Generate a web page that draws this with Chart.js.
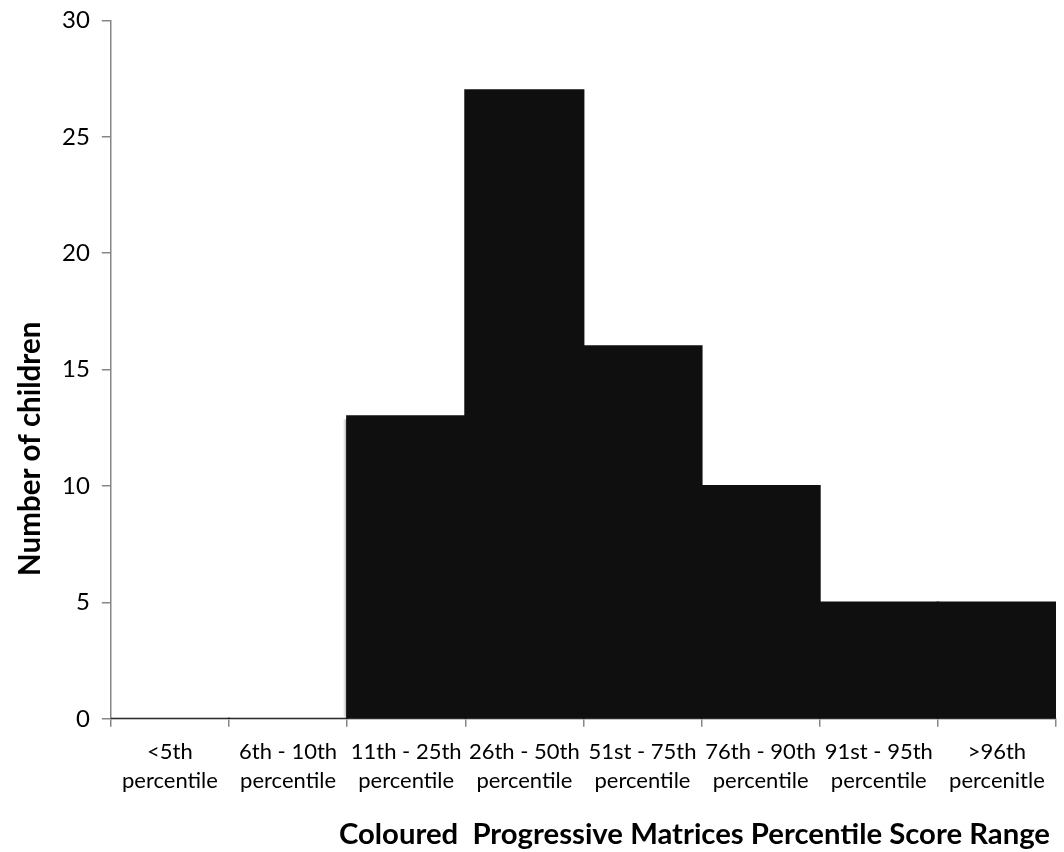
<!DOCTYPE html>
<html>
<head>
<meta charset="utf-8">
<style>
  html, body { margin: 0; padding: 0; background: #ffffff; }
  #wrap { width: 1064px; height: 852px; position: relative; }
</style>
<script src="https://cdn.jsdelivr.net/npm/chart.js@4/dist/chart.umd.min.js"></script>
</head>
<body>
<div id="wrap"><canvas id="chart" width="1064" height="852"></canvas></div>
<script>
// Score ranges (two-line labels) and number of children in each
const categories = [
  ['<5th', 'percentile'],
  ['6th - 10th', 'percentile'],
  ['11th - 25th', 'percentile'],
  ['26th - 50th', 'percentile'],
  ['51st - 75th', 'percentile'],
  ['76th - 90th', 'percentile'],
  ['91st - 95th', 'percentile'],
  ['>96th', 'percenitle']
];
const children = [0, 0, 13, 27, 16, 10, 5, 5];
const yTicks = [0, 5, 10, 15, 20, 25, 30];

const xTitle = 'Coloured  Progressive Matrices Percentile Score Range';
const yTitle = 'Number of children';

const FONT = 'Lato, "Open Sans", sans-serif';
const AXIS_GREY = '#868686';

// soft shadow along the left edge of the leftmost visible bar
const barShadow = {
  id: 'barShadow',
  beforeDatasetsDraw(chart) {
    const meta = chart.getDatasetMeta(0);
    const idx = chart.data.datasets[0].data.findIndex(v => v > 0);
    if (idx < 0) return;
    const bar = meta.data[idx];
    const left = bar.x - bar.width / 2;
    const c = chart.ctx;
    c.save();
    c.beginPath();
    c.rect(left - 8, bar.y + 3, 8, bar.base - bar.y - 3);
    c.clip();
    c.shadowColor = 'rgba(0,0,0,0.45)';
    c.shadowBlur = 3;
    c.shadowOffsetX = -2;
    c.fillStyle = '#0f0f0f';
    c.fillRect(left, bar.y, bar.width, bar.base - bar.y);
    c.restore();
  }
};

// axis titles: x title right-aligned under the plot, y title rotated at the left
const axisTitles = {
  id: 'axisTitles',
  afterDraw(chart) {
    const c = chart.ctx;
    const a = chart.chartArea;
    c.save();
    c.fillStyle = '#000000';
    c.font = 'bold 29.3px ' + FONT;
    c.textBaseline = 'middle';
    c.textAlign = 'right';
    c.fillText(xTitle, a.right - 6, chart.height - 17);
    c.translate(30, a.bottom - 270);
    c.rotate(-Math.PI / 2);
    c.textAlign = 'center';
    c.font = 'bold 29.5px ' + FONT;
    c.fillText(yTitle, 0, 0);
    c.restore();
  }
};

new Chart(document.getElementById('chart'), {
  type: 'bar',
  data: {
    labels: categories,
    datasets: [{
      data: children,
      backgroundColor: '#0f0f0f',
      borderWidth: 0,
      inflateAmount: 1,
      barPercentage: 1.0,
      categoryPercentage: 1.0
    }]
  },
  options: {
    responsive: false,
    animation: false,
    layout: { padding: { top: 0, right: 8, left: 50, bottom: 46 } },
    plugins: {
      legend: { display: false },
      tooltip: { enabled: false }
    },
    scales: {
      x: {
        offset: true,
        grid: {
          offset: true,
          drawOnChartArea: false,
          drawTicks: true,
          tickLength: 8,
          color: AXIS_GREY,
          lineWidth: 1.5
        },
        border: { color: AXIS_GREY, width: 1.5 },
        ticks: {
          color: '#000000',
          font: { family: FONT, size: 22, lineHeight: 1.3 },
          padding: 11,
          maxRotation: 0,
          autoSkip: false
        }
      },
      y: {
        min: 0,
        max: 30,
        afterBuildTicks(scale) {
          scale.ticks = yTicks.map(v => ({ value: v }));
        },
        grid: {
          drawOnChartArea: false,
          drawTicks: true,
          tickLength: 9,
          color: AXIS_GREY,
          lineWidth: 1.5
        },
        border: { color: AXIS_GREY, width: 1.5 },
        ticks: {
          color: '#000000',
          font: { family: FONT, size: 24, lineHeight: 0.7 },
          padding: 12
        }
      }
    }
  },
  plugins: [barShadow, axisTitles]
});
</script>
</body>
</html>
